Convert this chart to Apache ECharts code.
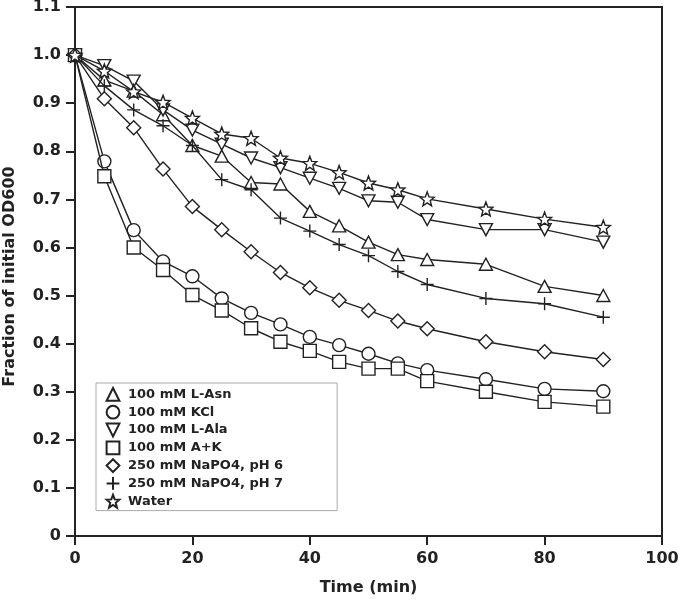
<!DOCTYPE html>
<html><head><meta charset="utf-8">
<script src="https://cdn.jsdelivr.net/npm/echarts@6/dist/echarts.min.js"></script>
<style>html,body{margin:0;padding:0;background:#fff}#c{width:680px;height:602px}</style>
</head><body><div id="c"></div>
<script>
const times = [0, 5, 10, 15, 20, 25, 30, 35, 40, 45, 50, 55, 60, 70, 80, 90];
const xTicks = [0, 20, 40, 60, 80, 100];
const yTicks = [0, 0.1, 0.2, 0.3, 0.4, 0.5, 0.6, 0.7, 0.8, 0.9, 1.0, 1.1];
const seriesNames = ['100 mM L-Asn', '100 mM KCl', '100 mM L-Ala', '100 mM A+K', '250 mM NaPO4, pH 6', '250 mM NaPO4, pH 7', 'Water'];
const lAsn  = [1.0, 0.948, 0.925, 0.876, 0.812, 0.790, 0.735, 0.732, 0.675, 0.645, 0.611, 0.585, 0.575, 0.565, 0.519, 0.500];
const kcl   = [1.0, 0.779, 0.636, 0.571, 0.540, 0.494, 0.464, 0.440, 0.414, 0.397, 0.379, 0.359, 0.345, 0.326, 0.306, 0.301];
const lAla  = [1.0, 0.978, 0.946, 0.886, 0.844, 0.815, 0.786, 0.766, 0.744, 0.723, 0.697, 0.694, 0.658, 0.637, 0.637, 0.611];
const aPlusK= [1.0, 0.748, 0.600, 0.553, 0.501, 0.469, 0.432, 0.404, 0.385, 0.362, 0.348, 0.348, 0.322, 0.300, 0.279, 0.269];
const naPh6 = [1.0, 0.909, 0.849, 0.763, 0.685, 0.637, 0.591, 0.548, 0.516, 0.490, 0.469, 0.447, 0.431, 0.404, 0.383, 0.367];
const naPh7 = [1.0, 0.936, 0.886, 0.853, 0.812, 0.741, 0.720, 0.661, 0.634, 0.606, 0.583, 0.550, 0.523, 0.494, 0.483, 0.455];
const water = [1.0, 0.967, 0.924, 0.902, 0.869, 0.836, 0.827, 0.786, 0.775, 0.756, 0.734, 0.720, 0.701, 0.680, 0.659, 0.642];

function starPath() {
  const pts = [];
  for (let k = 0; k < 10; k++) {
    const r = k % 2 === 0 ? 10 : 4.3;
    const a = -Math.PI / 2 + k * Math.PI / 5;
    pts.push((10 + r * Math.cos(a)).toFixed(2) + ',' + (10 + r * Math.sin(a)).toFixed(2));
  }
  return 'path://M' + pts.join('L') + 'Z';
}
const INK = '#222';
const FONT = 'DejaVu Sans';
const symbols = [
  {symbol: 'path://M5,0L10,8.66L0,8.66Z', size: [13, 12]},
  {symbol: 'circle', size: 13},
  {symbol: 'path://M0,0L10,0L5,8.66Z', size: [13, 12]},
  {symbol: 'rect', size: 13},
  {symbol: 'diamond', size: 14},
  {symbol: 'path://M5,0L5,10M0,5L10,5', size: 13},
  {symbol: starPath(), size: 14}
];
const values = [lAsn, kcl, lAla, aPlusK, naPh6, naPh7, water];

const series = seriesNames.map((name, i) => ({
  name: name,
  type: 'line',
  data: times.map((t, j) => [t, values[i][j]]),
  symbol: symbols[i].symbol,
  symbolSize: symbols[i].size,
  showAllSymbol: true,
  lineStyle: {color: INK, width: 1.4},
  itemStyle: {color: '#fff', borderColor: INK, borderWidth: 1.4},
  emphasis: {disabled: true},
  z: 2 + i
}));

const chart = echarts.init(document.getElementById('c'), null, {renderer: 'canvas'});
chart.setOption({
  animation: false,
  backgroundColor: '#fff',
  grid: {left: 75, right: 18, top: 7, bottom: 66, show: true, borderColor: INK, borderWidth: 2,
    containLabel: false, outerBoundsMode: 'none'},
  legend: {
    orient: 'vertical', left: 96, top: 383,
    data: seriesNames,
    itemWidth: 20, itemHeight: 16, itemGap: 3,
    padding: [4, 54, 2, 6],
    borderColor: '#aaa', borderWidth: 1,
    lineStyle: {opacity: 0},
    selectedMode: false,
    textStyle: {fontFamily: FONT, fontWeight: 'bold', fontSize: 13, color: INK}
  },
  xAxis: {
    type: 'value', min: 0, max: 100, interval: 20,
    name: 'Time (min)', nameLocation: 'middle', nameGap: 44,
    nameTextStyle: {fontFamily: FONT, fontWeight: 'bold', fontSize: 16, color: INK},
    axisLine: {lineStyle: {color: INK, width: 2}},
    axisTick: {show: true, inside: false, length: 9, lineStyle: {color: INK, width: 2}},
    axisLabel: {margin: 15, fontFamily: FONT, fontWeight: 'bold', fontSize: 16, color: INK,
      formatter: v => xTicks.includes(v) ? String(v) : ''},
    splitLine: {show: false}
  },
  yAxis: {
    type: 'value', min: 0, max: 1.1, interval: 0.1,
    name: 'Fraction of initial OD600', nameLocation: 'middle', nameGap: 57,
    nameTextStyle: {fontFamily: FONT, fontWeight: 'bold', fontSize: 16, color: INK, padding: [0, 10, 0, 0]},
    axisLine: {lineStyle: {color: INK, width: 2}},
    axisTick: {show: true, inside: false, length: 9, lineStyle: {color: INK, width: 2}},
    axisLabel: {margin: 14, fontFamily: FONT, fontWeight: 'bold', fontSize: 16, color: INK,
      formatter: v => {
        const t = yTicks.find(y => Math.abs(y - v) < 1e-6);
        if (t === undefined) return '';
        return t === 0 ? '0' : t.toFixed(1);
      }},
    splitLine: {show: false}
  },
  series: series
});
</script></body></html>
